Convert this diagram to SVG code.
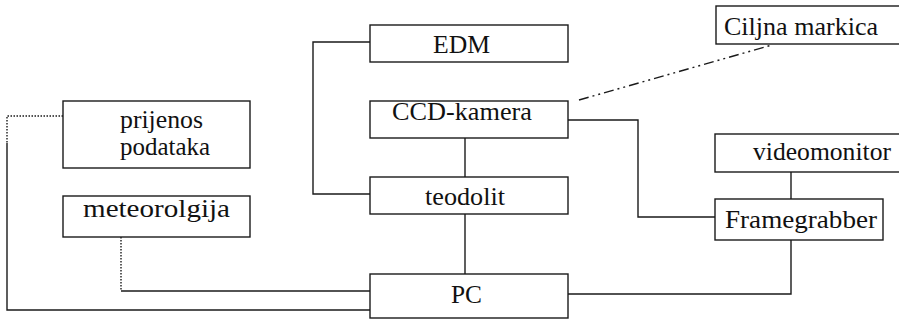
<svg xmlns="http://www.w3.org/2000/svg" width="899" height="320" viewBox="0 0 899 320">
<style>
.box{fill:#fff;stroke:#1a1a1a;stroke-width:1.4}
.t{font-size:25px;fill:#111}
.c{fill:none;stroke:#1a1a1a;stroke-width:1.4}
.dot{stroke-dasharray:1.5 1.5}
.dd{stroke-dasharray:10 4 2 4 2 4}
</style>
<rect width="899" height="320" fill="#fff"/>
<g id="connectors">
<polyline class="c" points="370,42 313,42 313,194 370,194"/>
<line class="c" x1="465" y1="138" x2="465" y2="177"/>
<line class="c" x1="465" y1="214" x2="465" y2="274"/>
<polyline class="c" points="568,120 638,120 638,217 715,217"/>
<line class="c" x1="791" y1="172" x2="791" y2="199"/>
<polyline class="c" points="791,240 791,294 568,294"/>
<line class="c dd" x1="579" y1="100" x2="772" y2="45"/>
<polyline class="c dot" points="63,116 7,116 7,143"/>
<polyline class="c" points="7,143 7,310 370,310"/>
<line class="c dot" x1="121" y1="237" x2="121" y2="291"/>
<line class="c" x1="121" y1="291" x2="370" y2="291"/>
</g>
<g font-family="Liberation Serif, Times New Roman, serif">
<g id="edm"><rect class="box" x="370" y="25" width="198" height="37"/><text class="t" x="433" y="53" textLength="57" lengthAdjust="spacingAndGlyphs">EDM</text></g>
<g id="ccd"><rect class="box" x="370" y="101" width="198" height="37"/><text class="t" x="392" y="120" textLength="140" lengthAdjust="spacingAndGlyphs">CCD-kamera</text></g>
<g id="teodolit"><rect class="box" x="370" y="177" width="198" height="37"/><text class="t" x="425" y="205" textLength="80" lengthAdjust="spacingAndGlyphs">teodolit</text></g>
<g id="pc"><rect class="box" x="370" y="274" width="198" height="44"/><text class="t" x="451" y="303" textLength="31" lengthAdjust="spacingAndGlyphs">PC</text></g>
<g id="prijenos"><rect class="box" x="63" y="101" width="187" height="67"/><text class="t" x="120" y="128" textLength="83" lengthAdjust="spacingAndGlyphs">prijenos</text><text class="t" x="120" y="155" textLength="90" lengthAdjust="spacingAndGlyphs">podataka</text></g>
<g id="meteorolgija"><rect class="box" x="63" y="196" width="187" height="41"/><text class="t" x="83" y="217" textLength="147" lengthAdjust="spacingAndGlyphs">meteorolgija</text></g>
<g id="ciljna"><rect class="box" x="716" y="6" width="200" height="38"/><text class="t" x="724" y="35" textLength="154" lengthAdjust="spacingAndGlyphs">Ciljna markica</text></g>
<g id="videomonitor"><rect class="box" x="715" y="134" width="200" height="38"/><text class="t" x="753" y="160" textLength="138" lengthAdjust="spacingAndGlyphs">videomonitor</text></g>
<g id="framegrabber"><rect class="box" x="715" y="199" width="168" height="41"/><text class="t" x="725" y="228" textLength="152" lengthAdjust="spacingAndGlyphs">Framegrabber</text></g>
</g>
</svg>
